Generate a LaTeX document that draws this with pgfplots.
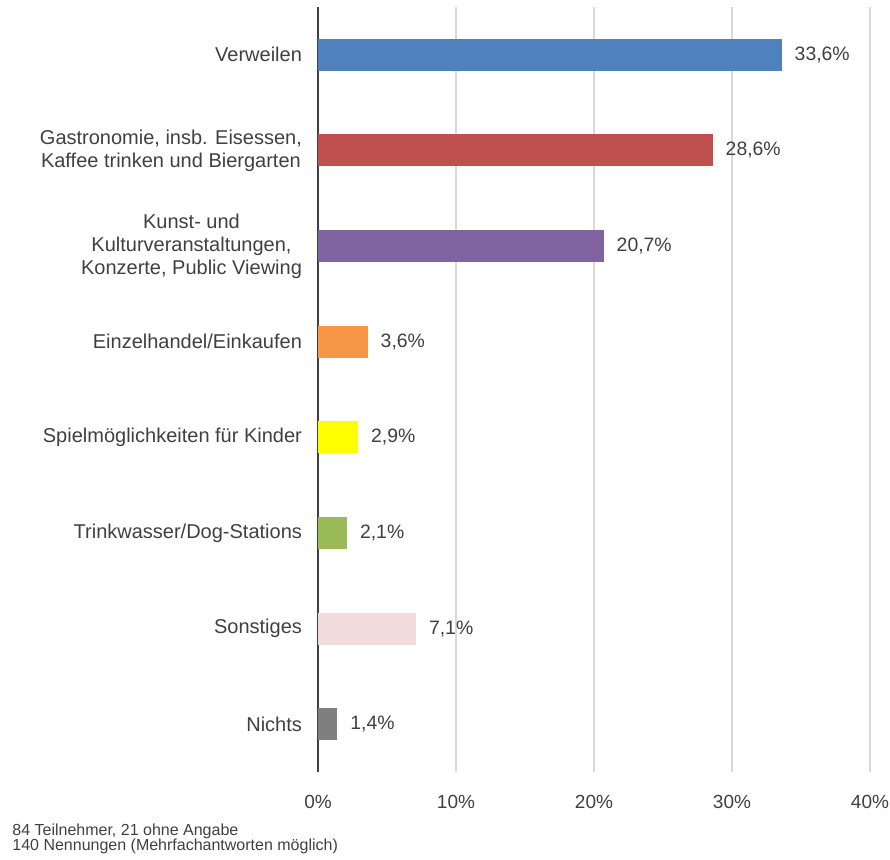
\documentclass[border=0pt]{standalone}
\usepackage{fontspec}
\setmainfont{Liberation Sans}
\usepackage{pgfplots}
\pgfplotsset{compat=1.18}
\definecolor{txt}{HTML}{404040}
\definecolor{gridc}{HTML}{D9D9D9}
\definecolor{c1}{HTML}{4F81BD}
\definecolor{c2}{HTML}{C0504D}
\definecolor{c3}{HTML}{8064A2}
\definecolor{c4}{HTML}{F79646}
\definecolor{c5}{HTML}{FFFF00}
\definecolor{c6}{HTML}{9BBB59}
\definecolor{c7}{HTML}{F2DCDB}
\definecolor{c8}{HTML}{7F7F7F}
\begin{document}
\begin{tikzpicture}
\path[use as bounding box] (-159pt,-44pt) rectangle (286pt,386pt);
\begin{axis}[
  scale only axis,
  width=276pt, height=382.5pt,
  xbar, bar width=16pt, bar shift=0pt,
  xmin=0, xmax=40,
  ymin=-0.5, ymax=7.5, y dir=reverse,
  xtick={0,10,20,30,40},
  xticklabels={0\%,10\%,20\%,30\%,40\%},
  ytick={0,...,7},
  yticklabels={Verweilen,
    {Gastronomie, insb. Eisessen,\\Kaffee trinken und Biergarten},
    {Kunst- und\\Kulturveranstaltungen,\\Konzerte, Public Viewing},
    Einzelhandel/Einkaufen,
    Spielmöglichkeiten für Kinder,
    Trinkwasser/Dog-Stations,
    Sonstiges,
    Nichts},
  yticklabel style={align=center, font=\fontsize{10pt}{11.5pt}\selectfont, text=txt, xshift=-4.5pt},
  xticklabel style={font=\fontsize{9.5pt}{11pt}\selectfont, text=txt, yshift=-8pt},
  major tick length=0pt,
  tick style={draw=none},
  axis lines*=left,
  x axis line style={draw=none},
  y axis line style={draw=txt, line width=1.1pt, -},
  xmajorgrids,
  grid style={draw=gridc, line width=0.6pt},
  /pgf/number format/assume math mode=true,
  nodes near coords={\pgfmathprintnumber[fixed,fixed zerofill,precision=1,use comma]{\pgfplotspointmeta}\%},
  nodes near coords style={anchor=west, font=\fontsize{9.7pt}{11pt}\selectfont, text=txt, xshift=3pt},
  every axis plot/.append style={draw=none},
]
\addplot[fill=c1] coordinates {(33.6,0)};
\addplot[fill=c2] coordinates {(28.6,1)};
\addplot[fill=c3] coordinates {(20.7,2)};
\addplot[fill=c4] coordinates {(3.6,3)};
\addplot[fill=c5] coordinates {(2.9,4)};
\addplot[fill=c6] coordinates {(2.1,5)};
\addplot[fill=c7] coordinates {(7.1,6)};
\addplot[fill=c8] coordinates {(1.4,7)};
\end{axis}
\node[anchor=base west, align=left, inner sep=0pt, text=txt, font=\fontsize{8pt}{7.6pt}\selectfont] at (-153pt,-39.5pt) {84 Teilnehmer, 21 ohne Angabe\\140 Nennungen (Mehrfachantworten möglich)};
\end{tikzpicture}
\end{document}
